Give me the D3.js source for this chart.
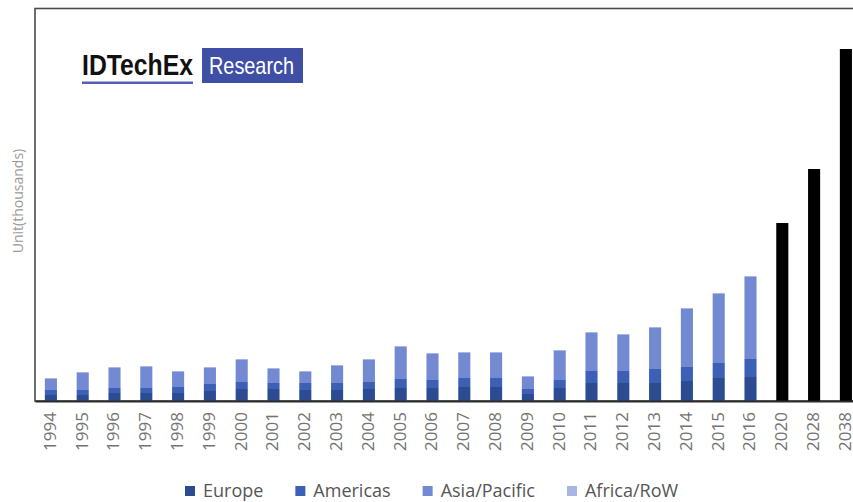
<!DOCTYPE html>
<html>
<head>
<meta charset="utf-8">
<script src="https://cdn.jsdelivr.net/npm/d3@7"></script>
<style>
  body { margin: 0; background: #fff; }
  svg { display: block; }
</style>
</head>
<body>
<div id="chart"></div>
<script>
// data (units in thousands, approximate)
const years = ['1994', '1995', '1996', '1997', '1998', '1999', '2000', '2001', '2002', '2003',
  '2004', '2005', '2006', '2007', '2008', '2009', '2010', '2011', '2012', '2013',
  '2014', '2015', '2016', '2020', '2028', '2038'];
const europe      = [60, 60, 80, 80, 80, 100, 120, 120, 110, 110, 120, 130, 130, 140, 140, 70, 130, 180, 180, 180, 200, 230, 240];
const americas    = [50, 50, 50, 50, 60, 70, 70, 60, 70, 70, 70, 90, 80, 90, 90, 50, 80, 120, 120, 140, 140, 150, 180];
const asiaPacific = [110, 170, 200, 210, 150, 160, 220, 140, 110, 170, 220, 320, 260, 250, 250, 120, 290, 380, 360, 410, 580, 690, 820];
const africaRow   = [10, 10, 10, 10, 10, 10, 10, 10, 10, 10, 10, 10, 10, 10, 10, 10, 10, 10, 10, 10, 10, 10, 10];
const forecastYears  = ['2020', '2028', '2038'];
const forecastTotals = [1780, 2320, 3520];

const regions = ['Europe', 'Americas', 'Asia/Pacific', 'Africa/RoW'];
const regionColours = ['#2c4b91', '#3b60b6', '#7389d1', '#a7b6e2'];

// sizes
const width = 853, height = 502;
const plot = {left: 35, top: 9, bottom: 401, step: 31.8};

const svg = d3.select('#chart').append('svg')
  .attr('width', width)
  .attr('height', height);

// scales
const x = d3.scaleBand()
  .domain(years)
  .range([plot.left, plot.left + years.length * plot.step])
  .paddingInner(0.62)
  .paddingOuter(0.31);

const y = d3.scaleLinear()
  .domain([0, 3920])
  .range([plot.bottom, plot.top]);

// build stacked rows from the region arrays
const rows = europe.map((e, i) => ({
  year: years[i],
  'Europe': e,
  'Americas': americas[i],
  'Asia/Pacific': asiaPacific[i],
  'Africa/RoW': africaRow[i]
}));
const stacked = d3.stack().keys(regions)(rows);

// plot frame (right side runs off the picture)
svg.append('rect')
  .attr('x', plot.left)
  .attr('y', 8.5)
  .attr('width', 900)
  .attr('height', plot.bottom - 8.5)
  .attr('fill', 'none')
  .attr('stroke', '#4a4a4a')
  .attr('stroke-width', 1.6);

// stacked regional bars
svg.append('g').selectAll('g')
  .data(stacked)
  .enter()
  .append('g')
    .attr('fill', (d, i) => regionColours[i])
  .selectAll('rect')
    .data(d => d)
    .enter()
    .append('rect')
      .attr('x', d => x(d.data.year))
      .attr('y', d => y(d[1]))
      .attr('width', x.bandwidth())
      .attr('height', d => y(d[0]) - y(d[1]));

// forecast bars in black
svg.append('g').selectAll('rect')
  .data(forecastYears.map((yr, i) => ({year: yr, value: forecastTotals[i]})))
  .enter()
  .append('rect')
    .attr('x', d => x(d.year))
    .attr('y', d => y(d.value))
    .attr('width', x.bandwidth())
    .attr('height', d => y(0) - y(d.value))
    .attr('fill', '#000');

// x axis
const xAxis = svg.append('g')
  .attr('transform', `translate(0, ${plot.bottom})`)
  .call(d3.axisBottom(x).tickSize(0).tickPadding(0));
xAxis.select('.domain')
  .attr('stroke', '#2b2b2b')
  .attr('stroke-width', 2);
xAxis.selectAll('text')
  .attr('transform', 'rotate(-90)')
  .attr('text-anchor', 'end')
  .attr('x', -11)
  .attr('y', -1)
  .attr('dy', '0.35em')
  .attr('fill', '#737373')
  .style('font-family', '"Open Sans", sans-serif')
  .style('font-size', '17px');

// y axis title
svg.append('text')
  .attr('transform', 'translate(18, 201) rotate(-90)')
  .attr('text-anchor', 'middle')
  .attr('dy', '0.35em')
  .attr('fill', '#9a9a9a')
  .style('font-family', '"Open Sans", sans-serif')
  .style('font-size', '14px')
  .text('Unit(thousands)');

// logo
const logo = svg.append('g');
logo.append('text')
  .attr('x', 82)
  .attr('y', 75)
  .attr('textLength', 111)
  .attr('lengthAdjust', 'spacingAndGlyphs')
  .attr('fill', '#111')
  .style('font-family', '"Liberation Sans Narrow", "Liberation Sans", Arial, sans-serif')
  .style('font-weight', 'bold')
  .style('font-size', '30px')
  .text('IDTechEx');
logo.append('rect')
  .attr('x', 82)
  .attr('y', 81.5)
  .attr('width', 111)
  .attr('height', 2.5)
  .attr('fill', '#5560b4');
logo.append('rect')
  .attr('x', 202)
  .attr('y', 48)
  .attr('width', 101)
  .attr('height', 35)
  .attr('fill', '#3f4fa5');
logo.append('text')
  .attr('x', 209)
  .attr('y', 74)
  .attr('textLength', 85)
  .attr('lengthAdjust', 'spacingAndGlyphs')
  .attr('fill', '#fff')
  .style('font-family', '"Liberation Sans Narrow", "Liberation Sans", Arial, sans-serif')
  .style('font-size', '24px')
  .text('Research');

// legend
const legend = svg.append('g')
  .attr('transform', 'translate(185, 491)')
  .style('font-family', '"Open Sans", sans-serif')
  .style('font-size', '18px');
let lx = 0;
regions.forEach((name, i) => {
  const item = legend.append('g').attr('transform', `translate(${lx}, 0)`);
  item.append('rect')
    .attr('x', 0)
    .attr('y', -5)
    .attr('width', 10)
    .attr('height', 10)
    .attr('fill', regionColours[i]);
  const t = item.append('text')
    .attr('x', 18)
    .attr('dy', '0.35em')
    .attr('fill', '#555')
    .text(name);
  lx += 18 + t.node().getComputedTextLength() + 32;
});
</script>
</body>
</html>
